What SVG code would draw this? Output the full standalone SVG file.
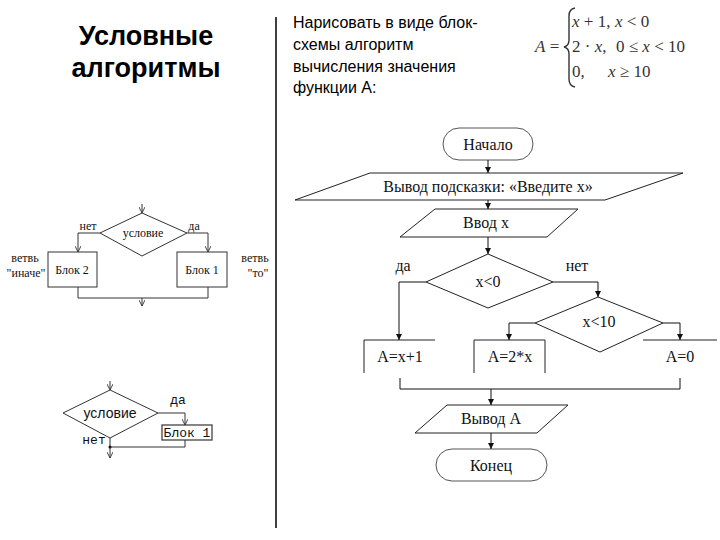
<svg xmlns="http://www.w3.org/2000/svg" width="720" height="540" viewBox="0 0 720 540">
<style>
.title{font-family:"Liberation Sans",Arial,sans-serif;font-weight:bold;font-size:27px;fill:#000;text-anchor:middle}
.task{font-family:"Liberation Sans",Arial,sans-serif;font-size:16px;fill:#000}
.fm{font-family:"Liberation Serif","Times New Roman",serif;font-size:17px;fill:#333}
.fc{font-family:"Liberation Serif","Times New Roman",serif;font-size:16px;fill:#111;text-anchor:middle}
.sm{font-family:"Liberation Serif","Times New Roman",serif;font-size:12px;fill:#111;text-anchor:middle}
.mono{font-family:"Liberation Mono","Courier New",monospace;font-size:13px;fill:#111;text-anchor:middle}
.sans{font-family:"Liberation Sans",Arial,sans-serif;font-size:14px;fill:#111;text-anchor:middle}
.shape{fill:none;stroke:#222;stroke-width:1}
.term{fill:none;stroke:#555;stroke-width:1}
.ln{fill:none;stroke:#111;stroke-width:1}
.lnl{fill:none;stroke:#333;stroke-width:1}
</style>
<defs>
<marker id="ah" viewBox="0 0 10 10" refX="10" refY="5" markerWidth="6" markerHeight="6" orient="auto" markerUnits="userSpaceOnUse"><path d="M0,0 L10,5 L0,10 z" fill="#111"/></marker>
<marker id="ao" viewBox="0 0 10 10" refX="10" refY="5" markerWidth="6" markerHeight="6" orient="auto" markerUnits="userSpaceOnUse"><path d="M0,0 L10,5 L0,10" fill="none" stroke="#333" stroke-width="1.5"/></marker>
</defs>
<rect width="720" height="540" fill="#fff"/>

<!-- headings -->
<g id="heading">
<text class="title" x="146" y="45">Условные</text>
<text class="title" x="146" y="77">алгоритмы</text>
</g>
<line x1="276" y1="17" x2="276" y2="528" stroke="#000" stroke-width="1.5"/>
<g id="task">
<text class="task" x="293" y="28">Нарисовать в виде блок-</text>
<text class="task" x="293" y="50">схемы алгоритм</text>
<text class="task" x="293" y="72">вычисления значения</text>
<text class="task" x="293" y="93">функции А:</text>
</g>
<g id="formula">
<text class="fm" x="535" y="52"><tspan font-style="italic">A</tspan> =</text>
<path d="M575,8 Q569,9 569,16 L569,40 Q569,46 564,47 Q569,48 569,54 L569,79 Q569,86 575,87" fill="none" stroke="#333" stroke-width="1.4"/>
<text class="fm" x="572" y="27"><tspan font-style="italic">x</tspan> + 1,</text>
<text class="fm" x="615" y="27"><tspan font-style="italic">x</tspan> &lt; 0</text>
<text class="fm" x="572" y="52">2 · <tspan font-style="italic">x</tspan>,</text>
<text class="fm" x="616" y="52">0 ≤ <tspan font-style="italic">x</tspan> &lt; 10</text>
<text class="fm" x="572" y="77">0,</text>
<text class="fm" x="608" y="77"><tspan font-style="italic">x</tspan> ≥ 10</text>
</g>

<!-- left diagram 1 -->
<g id="l1-cond">
<polygon class="lnl" points="142,213 187,233 142,256 100,233"/>
<text class="sm" x="143" y="237">условие</text>
</g>
<g id="l1-block2">
<rect class="lnl" x="48" y="252" width="49" height="35"/>
<text class="sm" x="72" y="274">Блок 2</text>
</g>
<g id="l1-block1">
<rect class="lnl" x="177" y="252" width="50" height="35"/>
<text class="sm" x="202" y="274">Блок 1</text>
</g>
<g id="l1-labels">
<text class="sm" x="88" y="230" font-size="11">нет</text>
<text class="sm" x="194" y="230" font-size="11">да</text>
<text class="sm" x="25" y="262" font-size="11">ветвь</text>
<text class="sm" x="26" y="277" font-size="11">"иначе"</text>
<text class="sm" x="255" y="262" font-size="11">ветвь</text>
<text class="sm" x="258" y="277" font-size="11">"то"</text>
</g>
<g id="l1-connectors">
<path class="lnl" d="M142,204 V213" marker-end="url(#ao)"/>
<path class="lnl" d="M100,233 H78 V252" marker-end="url(#ao)"/>
<path class="lnl" d="M187,233 H208 V252" marker-end="url(#ao)"/>
<path class="lnl" d="M78,287 V298 H208 V287"/>
<path class="lnl" d="M142,298 V306" marker-end="url(#ao)"/>
</g>

<!-- left diagram 2 -->
<g id="l2-cond">
<polygon class="lnl" points="110,390 158,413 110,438 63,413"/>
<text class="sans" x="110" y="418">условие</text>
</g>
<g id="l2-block1">
<rect x="162" y="425" width="50" height="15" fill="none" stroke="#444" stroke-width="1.3"/>
<text class="mono" x="187" y="437">Блок 1</text>
</g>
<g id="l2-labels">
<text class="mono" x="178" y="404">да</text>
<text class="mono" x="94" y="444">нет</text>
</g>
<g id="l2-connectors">
<path class="lnl" d="M110,381 V390" marker-end="url(#ao)"/>
<path class="lnl" d="M158,413 H185 V425" marker-end="url(#ao)"/>
<path class="lnl" d="M185,440 V447 H110"/>
<path class="lnl" d="M110,438 V458" marker-end="url(#ao)"/>
<circle cx="110" cy="447" r="1.5" fill="#111"/>
</g>

<!-- right flowchart -->
<g id="start">
<rect class="term" x="443" y="128" width="90" height="32" rx="16"/>
<text class="fc" x="488" y="150">Начало</text>
</g>
<g id="prompt">
<polygon class="shape" points="370,173 683,173 605,200 295,200"/>
<text class="fc" x="488" y="192">Вывод подсказки: «Введите х»</text>
</g>
<g id="input">
<polygon class="shape" points="435,209 578,209 547,237 400,237"/>
<text class="fc" x="486" y="228">Ввод х</text>
</g>
<g id="cond1">
<polygon class="shape" points="488,254 553,282 488,308 426,282"/>
<text class="fc" x="488" y="287">x&lt;0</text>
</g>
<g id="cond2">
<polygon class="shape" points="598,297 663,323 600,352 535,323"/>
<text class="fc" x="599" y="327">x&lt;10</text>
</g>
<g id="a1">
<path class="shape" d="M364,373 V340 H435"/>
<text class="fc" x="400" y="362">A=x+1</text>
</g>
<g id="a2">
<path class="shape" d="M474,373 V340 H545 V373"/>
<text class="fc" x="510" y="362">A=2*x</text>
</g>
<g id="a3">
<path class="shape" d="M643,340 H717"/>
<text class="fc" x="680" y="362">A=0</text>
</g>
<g id="output">
<polygon class="shape" points="447,405 568,405 537,433 415,433"/>
<text class="fc" x="491" y="424">Вывод А</text>
</g>
<g id="end">
<rect class="term" x="436" y="449" width="111" height="32" rx="16"/>
<text class="fc" x="491" y="471">Конец</text>
</g>
<g id="labels">
<text class="fc" x="403" y="271">да</text>
<text class="fc" x="577" y="271">нет</text>
</g>
<g id="connectors">
<path class="ln" d="M488,160 V173" marker-end="url(#ah)"/>
<path class="ln" d="M488,200 V209" marker-end="url(#ah)"/>
<path class="ln" d="M488,237 V254" marker-end="url(#ah)"/>
<path class="ln" d="M426,282 H399 V340" marker-end="url(#ah)"/>
<path class="ln" d="M553,282 H598 V297" marker-end="url(#ah)"/>
<path class="ln" d="M535,323 H509 V340" marker-end="url(#ah)"/>
<path class="ln" d="M663,323 H680 V340" marker-end="url(#ah)"/>
<path class="ln" d="M400,378 V389 H680 V378"/>
<path class="ln" d="M491,389 V405" marker-end="url(#ah)"/>
<path class="ln" d="M491,433 V449" marker-end="url(#ah)"/>
</g>
</svg>
